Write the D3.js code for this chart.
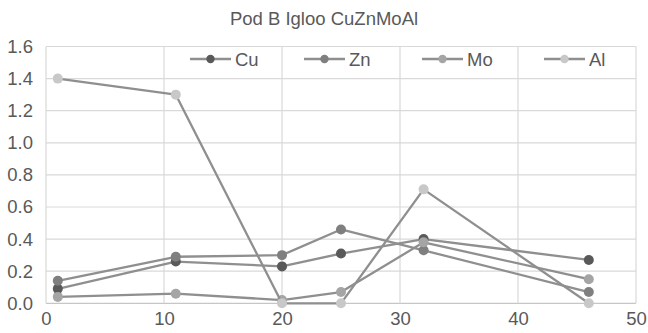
<!DOCTYPE html>
<html>
<head>
<meta charset="utf-8">
<script src="https://cdn.jsdelivr.net/npm/d3@7"></script>
<style>
  html, body { margin: 0; padding: 0; background: #fff; }
  svg { display: block; }
  text { font-family: "Liberation Sans", Arial, sans-serif; fill: #595959; }
</style>
</head>
<body>
<svg id="chart" width="648" height="333"></svg>
<script>
// Sample positions and measured concentrations
const depths = [1, 11, 20, 25, 32, 46];
const seriesNames = ["Cu", "Zn", "Mo", "Al"];
const cuValues = [0.09, 0.26, 0.23, 0.31, 0.40, 0.27];
const znValues = [0.14, 0.29, 0.30, 0.46, 0.33, 0.07];
const moValues = [0.04, 0.06, 0.02, 0.07, 0.38, 0.15];
const alValues = [1.40, 1.30, 0.00, 0.00, 0.71, 0.00];
const xTicks = [0, 10, 20, 30, 40, 50];
const yTicks = [0, 0.2, 0.4, 0.6, 0.8, 1.0, 1.2, 1.4, 1.6];
const chartTitle = "Pod B Igloo CuZnMoAl";

const markerColors = ["#595959", "#7f7f7f", "#a5a5a5", "#c8c8c8"];
const lineColor = "#8f8f8f";
const fontSize = "18.5px";

const series = [cuValues, znValues, moValues, alValues].map((vals, i) => ({
  name: seriesNames[i],
  color: markerColors[i],
  points: depths.map((d, j) => ({ x: d, y: vals[j] }))
}));

const svg = d3.select("#chart");
const plotLeft = 46, plotRight = 636, plotTop = 46.5, plotBottom = 303.3;

const x = d3.scaleLinear().domain([0, 50]).range([plotLeft, plotRight]);
const y = d3.scaleLinear().domain([0, 1.6]).range([plotBottom, plotTop]);

// Title
svg.append("text")
  .attr("x", 324).attr("y", 24.5)
  .attr("text-anchor", "middle")
  .style("font-size", fontSize)
  .text(chartTitle);

// Gridlines
const grid = svg.append("g");
grid.selectAll("line.h").data(yTicks).join("line")
  .attr("x1", plotLeft).attr("x2", plotRight)
  .attr("y1", d => y(d)).attr("y2", d => y(d))
  .attr("stroke", d => d === 0 ? "#c6c6c6" : "#d9d9d9")
  .attr("stroke-width", 1.2);
grid.selectAll("line.v").data(xTicks).join("line")
  .attr("y1", plotTop).attr("y2", plotBottom)
  .attr("x1", d => x(d)).attr("x2", d => x(d))
  .attr("stroke", "#d9d9d9")
  .attr("stroke-width", 1.2);

// Axes (labels only)
const yAxis = svg.append("g")
  .attr("transform", `translate(${plotLeft},0)`)
  .call(d3.axisLeft(y).tickValues(yTicks).tickFormat(d3.format(".1f")).tickSize(0).tickPadding(13));
const xAxis = svg.append("g")
  .attr("transform", `translate(0,${plotBottom})`)
  .call(d3.axisBottom(x).tickValues(xTicks).tickSize(0).tickPadding(9));
[yAxis, xAxis].forEach(a => {
  a.select(".domain").remove();
  a.selectAll("text").style("font-size", fontSize).attr("fill", "#595959")
    .style("font-family", "'Liberation Sans', Arial, sans-serif");
});

// Series lines and markers
const line = d3.line().x(d => x(d.x)).y(d => y(d.y));
const plot = svg.append("g");
series.forEach(s => {
  const g = plot.append("g");
  g.append("path")
    .attr("d", line(s.points))
    .attr("fill", "none")
    .attr("stroke", lineColor)
    .attr("stroke-width", 2.3)
    .attr("stroke-linejoin", "round");
  g.selectAll("circle").data(s.points).join("circle")
    .attr("cx", d => x(d.x)).attr("cy", d => y(d.y))
    .attr("r", 5)
    .attr("fill", s.color);
});

// Legend
const legendX = [190, 304, 422, 544];
const legend = svg.append("g");
series.forEach((s, i) => {
  const g = legend.append("g").attr("transform", `translate(${legendX[i]},59)`);
  g.append("line").attr("x1", 0).attr("x2", 41).attr("y1", 0).attr("y2", 0)
    .attr("stroke", lineColor).attr("stroke-width", 2.3);
  g.append("circle").attr("cx", 20.5).attr("cy", 0).attr("r", 4.2).attr("fill", s.color);
  g.append("text").attr("x", 45).attr("y", 6.5)
    .style("font-size", fontSize)
    .text(s.name);
});
</script>
</body>
</html>
